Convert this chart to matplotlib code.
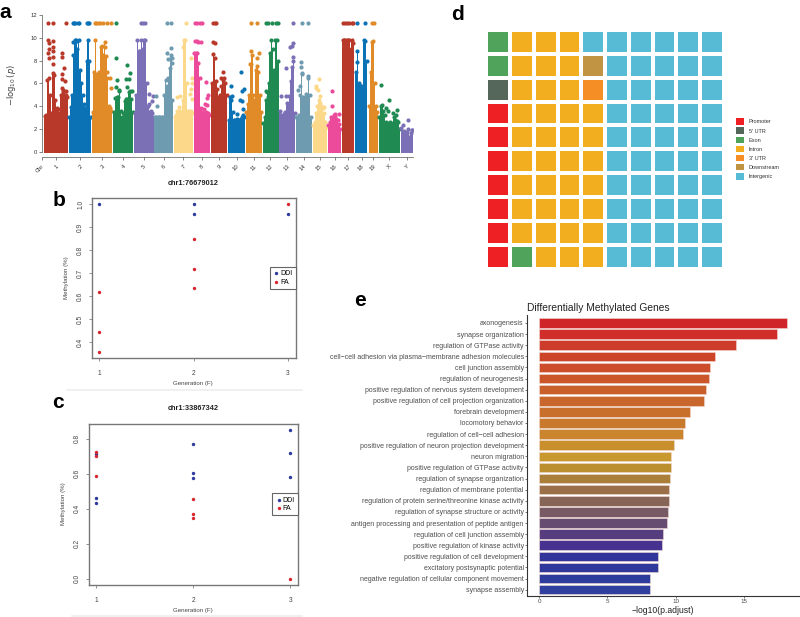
import matplotlib
matplotlib.use("Agg")
import matplotlib.pyplot as plt
from matplotlib.colors import ListedColormap
from matplotlib.patches import Patch
import numpy as np

plt.rcParams['font.family'] = ['Liberation Sans', 'DejaVu Sans']

W, H = 800, 617

# ---------- panel a: Manhattan ----------
chr_names = ['1','2','3','4','5','6','7','8','9','10','11','12','13','14','15','16','17','18','19','X','Y']
chr_ticks = [167,240,307,370,431,491,550,605,658,710,762,812,862,912,960,1005,1046,1086,1120,1168,1221]
chr_colors = ['#b8392a','#0b72b5','#e08b27','#1f8a52','#7b6fb5','#6f9bb0','#fcd98a','#ec4a9b']
chr_starts = [134,208,278,342,404,465,524,583,636,686,740,791,841,890,941,986,1029,1069,1109,1139,1205]
chr_tops = [
 [3.1,3.2,6.3,6.5,5.0,3.4,6.9,6.7,4.5,3.8,3.7,3.4,5.0,5.0,5.2,5.0,5.0,4.8],
 [3.0,3.9,5.0,8.5,9.8,9.8,9.0,9.8,7.2,6.0,5.0,4.2,3.8,8.0,9.8,8.0,3.0],
 [3.5,7.0,9.8,6.8,6.7,7.0,9.2,9.3,8.5,9.6,8.4,6.5,4.0,3.8,3.6],
 [3.5,4.7,4.8,4.8,5.3,3.6,3.0,3.4,4.4,4.6,4.6,5.2,5.3,4.6,3.5],
 [3.4,5.0,9.8,8.8,8.8,9.8,9.0,9.8,9.8,6.0,4.0,3.5,3.6,3.4,3.0],
 [3.0,3.0,3.0,3.0,3.0,3.0,3.0,5.0,6.3,5.8,6.5,7.3,8.5,4.5],
 [3.0,3.2,3.6,3.9,3.6,3.4,4.5,9.8,9.8,6.0,3.6,3.6,3.6,3.4],
 [8.7,8.7,8.7,7.8,6.5,3.8,3.5,3.7,3.4,3.5,3.4,3.2],
 [6.0,8.6,8.2,6.2,5.5,4.8,5.0,5.8,6.3,6.5,6.0,5.0],
 [2.8,4.8,4.5,3.5,2.8,2.8,2.9,2.8,2.8,2.9,3.0,3.2,3.0],
 [3.5,4.2,5.0,7.7,8.5,5.0,4.5,7.2,7.5,7.0,5.0,3.5],
 [2.5,3.0,4.5,5.2,6.0,8.7,9.8,9.0,7.2,9.8,9.8,8.0],
 [3.6,3.2,3.0,3.3,3.5,4.3,4.2,4.9,6.2,7.4,8.0,3.4],
 [3.0,3.0,3.2,5.0,6.9,4.8,4.5,5.1,5.0,6.5,5.0,3.0],
 [2.3,2.6,3.4,4.0,4.5,4.3,4.0,3.8,3.4,2.6,2.2],
 [2.3,2.6,3.0,2.9,3.2,3.1,2.9,2.8,2.4,2.0],
 [9.8,9.8,9.8,9.8,9.8,9.8,9.0,9.8,9.5],
 [7.0,8.8,6.0,5.8,5.8,5.8,9.8,9.7,8.0],
 [4.0,7.0,9.6,9.7,6.0,4.0,3.5],
 [3.0,4.0,4.1,3.6,3.2,2.6,2.5,2.4,2.6,2.5,2.4,3.0,2.8,2.7,2.6,2.0],
 [2.1,2.3,1.8,1.6,1.7,2.0,1.3,1.6,1.9],
]
chr_dots = [
 [(145,9.8),(146,9.5),(146,9.0),(145,8.7),(146,8.2),(159,9.7),(159,9.2),(159,8.8),(160,8.3),(160,7.7),(186,8.7),(186,8.3),(192,7.3),(185,6.8),(186,6.4),(195,6.2),(186,5.6),(190,5.4),(197,5.3)],
 [(220,9.6),(232,9.7)],
 [(316,9.2),(322,7.0),(330,6.5),(332,5.6)],
 [(348,8.25),(350,6.3),(381,7.6),(390,6.9),(379,6.4),(386,6.4),(348,5.7),(358,5.4),(380,5.7),(395,5.3)],
 [(448,5.1),(458,4.9),(455,4.4),(448,4.2),(442,3.9)],
 [(472,4.0),(468,4.9),(501,8.7),(513,9.1),(515,8.2),(516,7.8),(505,8.1)],
 [(532,4.8),(540,4.9),(574,8.2),(575,6.5),(577,6.0),(574,5.5),(570,5.1),(575,4.6),(548,9.2)],
 [(585,9.7),(590,9.7),(595,9.6),(603,9.6),(618,6.1),(623,5.0),(622,4.7),(615,4.2),(622,4.1)],
 [(640,9.6),(645,9.5),(670,7.0),(664,6.5)],
 [(693,5.8),(722,7.0),(733,5.5),(727,5.3),(720,4.5),(725,4.4),(695,4.9),(730,3.7),(711,3.3)],
 [(755,8.8),(777,8.7),(772,8.2),(755,7.7)],
 [(800,5.3),(805,4.8)],
 [(845,4.9),(859,4.9),(860,7.3),(871,9.2),(880,9.5),(877,9.3),(880,8.3)],
 [(905,7.9),(903,7.4),(908,6.8),(924,6.6),(894,5.4),(900,5.8)],
 [(948,5.6),(958,6.4),(950,5.8),(955,5.4),(961,4.9),(972,3.9)],
 [(996,5.3),(996,4.0),(1006,3.3),(1018,3.3)],
 [],
 [(1073,7.9)],
 [],
 [(1143,5.85),(1167,4.55),(1193,3.65),(1165,3.6),(1180,3.4),(1190,3.2),(1160,3.8)],
 [(1226,2.75),(1238,1.9)],
]
top_hits = [
 [145,158,198],[218,222,226,234,236,260,264,268],[284,288,295,300,310,320,332],[348],
 [424,430,436],[500,513],[557],[586,592,600,605],[640,644,648],[],[755,771],
 [800,806,818,830,834],[880],[906,924],[],[],[1030,1036,1042,1048,1056,1060],[1073,1095],[1116,1122],[],[],
]
top_hit_value = 11.3

# ---------- panels b, c ----------
b_ddi_x = [1,2,2,3]
b_ddi_y = [1.0,1.0,0.955,0.957]
b_fa_x = [1,1,1,2,2,2,3]
b_fa_y = [0.617,0.443,0.358,0.848,0.718,0.636,1.0]
c_ddi_x = [1,1,1,2,2,2,3,3,3]
c_ddi_y = [0.459,0.434,0.712,0.768,0.602,0.573,0.85,0.718,0.581]
c_fa_x = [1,1,1,2,2,2,3]
c_fa_y = [0.722,0.703,0.585,0.457,0.371,0.349,0.0]

# ---------- panel d: waffle ----------
region_names = ['Promoter',"5' UTR",'Exon','Intron',"3' UTR",'Downstream','Intergenic']
region_colors = ['#ee2024','#54675a','#4fa35b','#f2ae1e','#f58e25','#c09442','#58bbd5']
waffle_rows = [
 [2,3,3,3,6,6,6,6,6,6],
 [2,3,3,3,5,6,6,6,6,6],
 [1,3,3,3,4,6,6,6,6,6],
 [0,3,3,3,3,6,6,6,6,6],
 [0,3,3,3,3,6,6,6,6,6],
 [0,3,3,3,3,6,6,6,6,6],
 [0,3,3,3,3,6,6,6,6,6],
 [0,3,3,3,3,6,6,6,6,6],
 [0,3,3,3,3,6,6,6,6,6],
 [0,2,3,3,3,6,6,6,6,6],
]

# ---------- panel e ----------
go_terms = ['axonogenesis','synapse organization','regulation of GTPase activity',
 'cell\u2212cell adhesion via plasma\u2212membrane adhesion molecules','cell junction assembly',
 'regulation of neurogenesis','positive regulation of nervous system development',
 'positive regulation of cell projection organization','forebrain development','locomotory behavior',
 'regulation of cell\u2212cell adhesion','positive regulation of neuron projection development',
 'neuron migration','positive regulation of GTPase activity','regulation of synapse organization',
 'regulation of membrane potential','regulation of protein serine/threonine kinase activity',
 'regulation of synapse structure or activity','antigen processing and presentation of peptide antigen',
 'regulation of cell junction assembly','positive regulation of kinase activity',
 'positive regulation of cell development','excitatory postsynaptic potential',
 'negative regulation of cellular component movement','synapse assembly']
go_values = [18.2,17.45,14.41,12.92,12.53,12.45,12.2,12.11,11.08,10.69,10.52,9.91,9.69,9.69,9.59,9.52,9.52,9.47,9.37,9.1,9.03,8.73,8.73,8.12,8.12]
go_colors = ['#cf2528','#cf2e2a','#cd3b2a','#cc4529','#cc4e2a','#cb562a','#c95f2a','#c9662b','#c8702b','#c9792c',
 '#c9842d','#c98f2d','#c9982e','#bb8f30','#a97f3a','#9b7049','#866557','#775a65','#674c72','#563d7f',
 '#47338f','#34359a','#30399b','#2e3d9c','#2f409f']

fig = plt.figure(figsize=(W/100, H/100), dpi=100)

def ax_px(l, t, r, b):
    return fig.add_axes([l/W, 1-b/H, (r-l)/W, (b-t)/H])

def frac(ax, x, y):
    return ax.transAxes.inverted().transform(fig.transFigure.transform((x/W, 1-y/H)))

# panel a
a = ax_px(41.7, 15, 413, 156.7)
for i, (s, tops, dots, hits) in enumerate(zip(chr_starts, chr_tops, chr_dots, top_hits)):
    col = chr_colors[i % len(chr_colors)]
    xs = s + 4*np.arange(len(tops))
    a.bar(xs, np.array(tops)+0.12, width=4.1, bottom=-0.12, color=col, lw=0)
    a.scatter(xs, tops, s=9, color=col, lw=0)
    if dots:
        d = np.array(dots)
        a.scatter(d[:,0], d[:,1], s=9, color=col, lw=0)
    if hits:
        a.scatter(hits, [top_hit_value]*len(hits), s=9, color=col, lw=0)
a.set_xlim(125, 1240)
a.set_ylim(-0.45, 12)
for sp in ['top','right']:
    a.spines[sp].set_visible(False)
a.spines['left'].set_bounds(0, 12)
a.spines['left'].set_color('#555555'); a.spines['bottom'].set_color('#555555')
a.spines['left'].set_linewidth(0.5); a.spines['bottom'].set_linewidth(0.5)
a.set_yticks(range(0, 13, 2))
a.set_xticks([125]+chr_ticks)
a.set_xticklabels(['Chr']+chr_names, rotation=45, ha='right', rotation_mode='anchor')
a.tick_params(axis='both', labelsize=4.2, length=2, width=0.5, pad=1.5, color='#555555', labelcolor='#333333')
a.tick_params(axis='x', pad=3)
a.set_ylabel(r'$-\log_{10}(p)$', fontsize=6, color='#444444')
a.yaxis.set_label_coords(*frac(a, 18, 85))

def r_panel(pos, ddi_x, ddi_y, fa_x, fa_y, xlim, ylim, yticks, title, title_xy, xlab_xy, ylab_xy, xtick_pad, ytick_pad):
    ax = ax_px(*pos)
    ax.scatter(ddi_x, ddi_y, s=6, color='#2f3a9e', lw=0, label='DDI', zorder=3)
    ax.scatter(fa_x, fa_y, s=6, color='#d9262e', lw=0, label='FA', zorder=3)
    ax.set_xlim(*xlim); ax.set_ylim(*ylim)
    ax.set_xticks([1, 2, 3]); ax.set_yticks(yticks)
    ax.set_yticklabels([f'{v:.1f}' for v in yticks], rotation=90, va='center')
    ax.tick_params(axis='x', labelsize=4.8, length=2.5, width=0.5, pad=xtick_pad, color='#666666', labelcolor='#444444')
    ax.tick_params(axis='y', labelsize=4.8, length=2.5, width=0.5, pad=ytick_pad, color='#666666', labelcolor='#444444')
    for sp in ax.spines.values():
        sp.set_color('#777777'); sp.set_linewidth(1.0)
    ax.set_xlabel('Generation (F)', fontsize=4.4, color='#444444')
    ax.xaxis.set_label_coords(*frac(ax, *xlab_xy))
    ax.xaxis.label.set_va('center')
    ax.set_ylabel('Methylation (%)', fontsize=4.4, color='#444444')
    ax.yaxis.set_label_coords(*frac(ax, *ylab_xy))
    ax.yaxis.label.set_va('center')
    tx, ty = frac(ax, *title_xy)
    ax.set_title(title, fontsize=5.3, fontweight='bold', x=tx, y=ty, va='center', color='#222222', pad=0)
    leg = ax.legend(loc='center right', bbox_to_anchor=(1.0, 0.5), borderaxespad=0, fontsize=5.0, fancybox=False,
                    framealpha=1, edgecolor='#666666', handletextpad=0.2, handlelength=0.8, labelspacing=0.2,
                    borderpad=0.5, markerscale=1.0)
    leg.get_frame().set_linewidth(0.8)
    return ax

r_panel((91.7, 198.3, 295.7, 357.7), b_ddi_x, b_ddi_y, b_fa_x, b_fa_y, (0.923, 3.081), (0.333, 1.0247),
        [0.4,0.5,0.6,0.7,0.8,0.9,1.0], 'chr1:76679012', (193,183.7), (193,383), (66.7,277.7), 6, 3)
r_panel((88.7, 423.7, 298.3, 584.7), c_ddi_x, c_ddi_y, c_fa_x, c_fa_y, (0.921, 3.082), (-0.034, 0.886),
        [0.0,0.2,0.4,0.6,0.8], 'chr1:33867342', (193,409), (193,610.7), (63,504), 6, 3)

# panel d
d = ax_px(486.3, 30, 724, 268.7)
d.pcolormesh(np.array(waffle_rows), cmap=ListedColormap(region_colors), vmin=-0.5, vmax=6.5,
             edgecolors='white', linewidth=1.6)
d.set_xlim(0, 10); d.set_ylim(10, 0)
d.axis('off')
hs = [Patch(facecolor=c, edgecolor='none', label=n) for c, n in zip(region_colors, region_names)]
fig.legend(handles=hs, loc='upper left', bbox_to_anchor=(736.3/W, 1-118.3/H), frameon=False, fontsize=4.0,
           handlelength=1.44, handleheight=1.44, labelspacing=0.46, handletextpad=0.8, borderpad=0, borderaxespad=0,
           labelcolor='#333333')

# panel e
e = ax_px(527, 315, 799.3, 596)
ypos = np.arange(len(go_terms))
e.barh(ypos, go_values, height=0.86, color=go_colors, edgecolor='#f3d9d2', linewidth=0.4)
e.set_xlim(-0.90, 19.07); e.set_ylim(24.57, -0.72)
e.set_yticks(ypos); e.set_yticklabels(go_terms)
e.set_xticks([0, 5, 10, 15])
e.tick_params(axis='y', labelsize=5.0, length=1.5, width=0.5, pad=0.8, color='#444444', labelcolor='#4d4d4d')
e.tick_params(axis='x', labelsize=4.5, length=1.5, width=0.5, pad=0.8, color='#444444', labelcolor='#4d4d4d')
for sp in ['top','right']:
    e.spines[sp].set_visible(False)
e.spines['left'].set_color('#333333'); e.spines['bottom'].set_color('#333333')
e.set_xlabel('\u2212log10(p.adjust)', fontsize=6.2, color='#222222')
e.xaxis.set_label_coords(*frac(e, 663.3, 610.5))
e.xaxis.label.set_va('center')
tx, ty = frac(e, 527.3, 308)
e.set_title('Differentially Methylated Genes', fontsize=7.4, x=tx, y=ty, ha='left', va='center', color='#222222', pad=0)

# panel letters
for letter, x, y in [('a',5,12),('b',59,200),('c',58,403),('d',458,14),('e',360,300)]:
    fig.text(x/W, 1-y/H, letter, fontsize=15, fontweight='bold', ha='center', va='center', color='black')

# faint separators beneath panels b and c
for y0, x0, x1 in [(390, 67, 302), (616, 72, 302)]:
    fig.add_artist(plt.Line2D([x0/W, x1/W], [1-y0/H, 1-y0/H], color='#eeeeee', lw=1.2))

fig.savefig('out.png', dpi=100)
